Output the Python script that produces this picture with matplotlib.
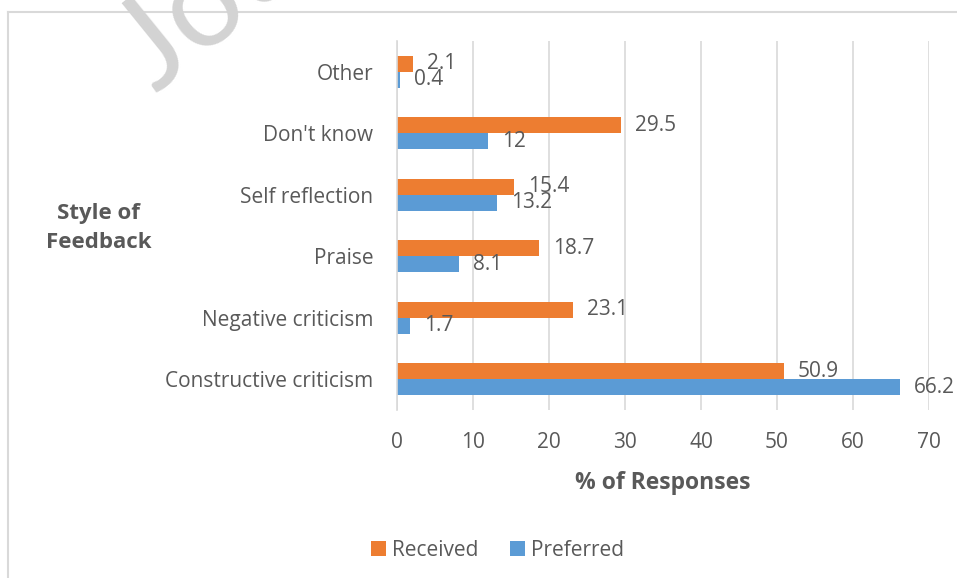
import matplotlib.pyplot as plt
from matplotlib.lines import Line2D
import numpy as np

plt.rcParams['font.family'] = ['Open Sans', 'DejaVu Sans']

categories = ["Constructive criticism", "Negative criticism", "Praise",
              "Self reflection", "Don't know", "Other"]
received = [50.9, 23.1, 18.7, 15.4, 29.5, 2.1]
preferred = [66.2, 1.7, 8.1, 13.2, 12, 0.4]
x_ticks = [0, 10, 20, 30, 40, 50, 60, 70]

orange = "#ED7D31"
blue = "#5B9BD5"
grey_txt = "#595959"
grid_col = "#d9d9d9"

fig = plt.figure(figsize=(9.57, 5.78), dpi=100)
ax = fig.add_axes([0.4148, 0.2907, 0.9707 - 0.4148, 0.929 - 0.2907])

y = np.arange(len(categories))
h = 0.26
b1 = ax.barh(y + h / 2, received, height=h, color=orange, label="Received", zorder=3)
b2 = ax.barh(y - h / 2, preferred, height=h, color=blue, label="Preferred", zorder=3)

for bars, vals in ((b1, received), (b2, preferred)):
    for bar, v in zip(bars, vals):
        ax.annotate(f"{v:g}", (v, bar.get_y() + bar.get_height() / 2),
                    xytext=(14, 0), textcoords="offset pixels",
                    va="center", ha="left", fontsize=15, color=grey_txt, zorder=4)

ax.set_xlim(0, 70)
ax.set_ylim(-0.5, 5.5)
ax.set_xticks(x_ticks)
ax.set_yticks(y)
ax.set_yticklabels(categories)
ax.tick_params(axis="both", length=0, labelsize=15, labelcolor=grey_txt)
ax.tick_params(axis="y", pad=17)
ax.tick_params(axis="x", pad=16)
ax.grid(axis="x", color=grid_col, linewidth=1.2, zorder=0)
for s in ("top", "right", "bottom"):
    ax.spines[s].set_visible(False)
ax.spines["left"].set_color(grid_col)
ax.spines["left"].set_linewidth(1.2)
ax.spines["left"].set_zorder(5)

ax.set_xlabel("% of Responses", fontsize=16.5, fontweight="bold", color=grey_txt, labelpad=13)
fig.text(0.103, 1 - 228 / 578, "Style of\nFeedback", ha="center", va="center",
         fontsize=16, fontweight="bold", color=grey_txt, linespacing=1.45)

fig.legend(handles=[b1, b2], labels=["Received", "Preferred"], loc="center",
           bbox_to_anchor=(0.52, 1 - 550 / 578), ncol=2, frameon=False,
           fontsize=15, labelcolor=grey_txt, handlelength=0.7, handleheight=0.7,
           handletextpad=0.3, columnspacing=1.5)

# outer chart frame (left and top edges only)
fig.add_artist(Line2D([8 / 957, 8 / 957], [0, 1 - 12 / 578], color=grid_col, lw=1.5))
fig.add_artist(Line2D([8 / 957, 1], [1 - 12 / 578, 1 - 12 / 578], color=grid_col, lw=1.5))

# watermark, mostly running off the top edge
fig.text(156 / 957, 1 - 94 / 578, "Journal Pre-proof", fontsize=92, color="#d3d3d3",
         family="Lato", rotation=39, rotation_mode="anchor",
         ha="left", va="baseline", zorder=10)

fig.savefig("out.png", dpi=100)
